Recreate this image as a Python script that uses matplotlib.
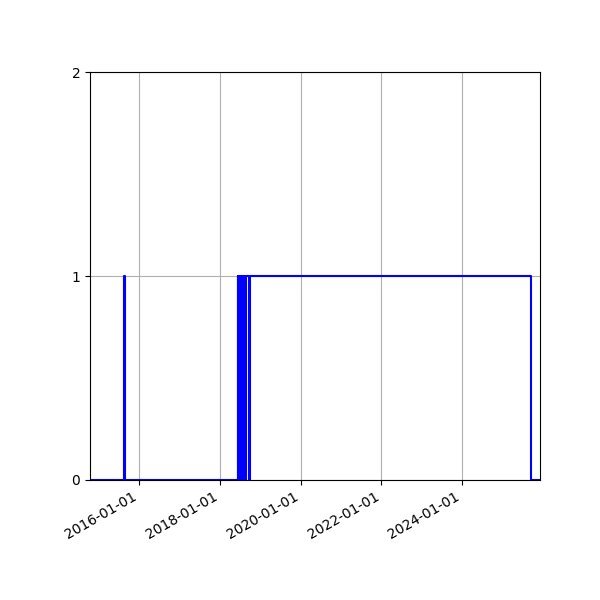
import matplotlib
matplotlib.use("Agg")
import matplotlib.pyplot as plt
import matplotlib.dates as mdates
import pandas as pd

# state changes (date, value)
change_dates = [
    "2014-10-15", "2015-08-14", "2015-08-24",
    "2018-06-10", "2018-06-15", "2018-06-20", "2018-06-25", "2018-06-30",
    "2018-07-05", "2018-07-10", "2018-07-16", "2018-07-24", "2018-07-29",
    "2018-08-02", "2018-08-14", "2018-08-24", "2018-09-22", "2018-09-30",
    "2025-09-11", "2025-12-04",
]
states = [
    0, 1, 0,
    1, 0, 1, 0, 1,
    0, 1, 0, 1, 0,
    1, 0, 1, 0, 1,
    0, 0,
]

dates = pd.to_datetime(change_dates)

fig, ax = plt.subplots(figsize=(6, 6), dpi=100)
fig.subplots_adjust(left=0.15, right=0.9, top=0.88, bottom=0.2)

ax.plot(dates, states, drawstyle="steps-post", color="blue", linewidth=1.5)

ax.set_xlim(dates[0], dates[-1])
ax.set_ylim(0, 2)
ax.set_yticks([0, 1, 2])
ax.xaxis.set_major_locator(mdates.YearLocator(2))
ax.xaxis.set_major_formatter(mdates.DateFormatter("%Y-%m-%d"))
ax.grid(True)

for lbl in ax.get_xticklabels():
    lbl.set_rotation(30)
    lbl.set_ha("right")

fig.savefig("out.png")
